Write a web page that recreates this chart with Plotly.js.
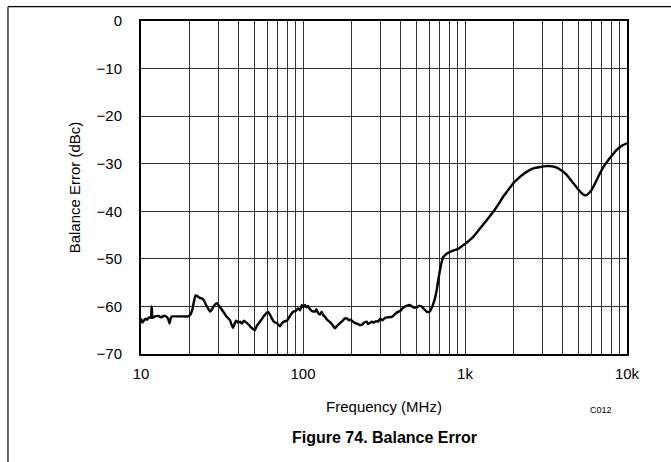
<!DOCTYPE html>
<html>
<head>
<meta charset="utf-8">
<script src="https://cdn.plot.ly/plotly-3.0.1.min.js"></script>
<style>html,body{margin:0;padding:0;background:#fff;}#chart{width:671px;height:462px;}</style>
</head>
<body>
<div id="chart"></div>
<script>
// Frequency (MHz)
const freqMHz = [
  10, 10.2, 10.4, 10.7, 10.9, 11.2, 11.5, 11.64, 11.78, 12.2, 12.8, 13.3, 13.8, 14.3, 14.7, 15.0, 15.3, 15.6, 16.5, 17.4, 18.5, 19.5,
  20.1, 20.8, 21.2, 21.7, 22.2, 23.1, 24.0, 24.5, 25.5, 26.7, 27.3, 28.3, 29.4, 30.5, 31.6, 33.5, 35.4, 36.2, 37.0, 38.0, 38.6,
  39.7, 40.8, 42, 43.2, 45.1, 46.5, 47.8, 50.5, 52, 54.3, 57.4, 60.8, 62.5, 64.4, 66.5, 69.1, 72.1, 74, 76.3, 79.6, 83.2, 86.7,
  90, 93.1, 96, 98.2, 100.5, 102.8, 105, 107.4, 110, 113.7, 118.6, 121, 123.8, 127, 130.4, 133, 136.8, 141, 146.8, 152, 157.6,
  163, 169.2, 176, 180, 186.1, 192, 197, 203.5, 210, 218.6, 224, 230.3, 238, 247.3, 252, 259.2, 266, 274.3, 282, 290.6, 300,
  310, 320.9, 335, 352.9, 370, 387.4, 400, 414.2, 435, 457.4, 480, 503.3, 520, 540.6, 560, 580.6, 595, 608.3, 621, 634.5,
  652.7, 668.5, 684.3, 701.4, 718.3, 735, 753, 790, 828.5, 870, 909.6, 977.2, 1040, 1099, 1180, 1267, 1380, 1496, 1610, 1723,
  1850, 1986, 2130, 2290, 2460, 2640, 2900, 3193, 3450, 3681, 3900, 4143, 4400, 4665, 4950, 5251, 5450, 5637, 5850, 6055,
  6400, 6813, 7200, 7673, 8100, 8635, 9300, 10000
];
// Balance error (dBc)
const balanceErr = [
  -62.5, -63.4, -63.0, -62.6, -62.8, -62.3, -62.4, -60.0, -62.4, -62.1, -62.0, -62.3, -62.0, -62.1, -62.6, -63.6, -62.4, -62.1, -62.1, -62.1, -62.1, -62.1,
  -61.8, -60.5, -59.0, -57.7, -57.8, -58.2, -58.4, -58.8, -60.0, -61.1, -60.7, -59.8, -59.3, -60.0, -60.7, -62.0, -62.9, -63.8, -64.5, -63.5, -63.0,
  -63.4, -63.2, -63.6, -63.0, -63.5, -63.9, -64.4, -65.0, -64.0, -63.2, -62.0, -61.1, -61.7, -62.6, -63.3, -63.5, -64.2, -63.6, -63.2, -63.0, -62.0, -61.1,
  -61.0, -60.4, -60.8, -59.7, -60.2, -59.7, -60.2, -59.9, -60.5, -61.0, -61.1, -60.6, -61.4, -61.7, -61.1, -61.8, -62.2, -62.8, -63.3, -63.9, -64.6,
  -64.0, -63.5, -63.0, -62.6, -62.5, -62.9, -62.8, -63.2, -63.5, -63.7, -63.9, -63.9, -63.4, -63.2, -63.7, -63.5, -63.2, -63.4, -63.1, -63.2, -62.6,
  -62.9, -62.4, -62.3, -62.2, -61.6, -61.1, -60.9, -60.3, -59.9, -59.7, -60.2, -60.2, -59.9, -60.0, -60.6, -61.1, -61.2, -61.0, -60.4, -59.6,
  -58.3, -56.6, -54.4, -52.3, -50.6, -49.6, -49.2, -48.7, -48.4, -48.1, -47.9, -47.1, -46.4, -45.7, -44.5, -43.2, -41.6, -40.1, -38.5, -36.9,
  -35.5, -34.1, -33.1, -32.2, -31.5, -31.0, -30.7, -30.5, -30.55, -30.8, -31.3, -32.0, -33.0, -34.1, -35.2, -36.2, -36.6, -36.6, -36.1, -35.5,
  -33.9, -32.0, -30.5, -29.2, -28.2, -27.1, -26.2, -25.7
];
// Axis ticks
const xTickVals = [10,20,30,40,50,60,70,80,90,100,200,300,400,500,600,700,800,900,1000,2000,3000,4000,5000,6000,7000,8000,9000,10000];
const xTickText = ['10','','','','','','','','','100','','','','','','','','','1k','','','','','','','','','10k'];
const yTickVals = [0,-10,-20,-30,-40,-50,-60,-70];
const yTickText = ['0','\u221210','\u221220','\u221230','\u221240','\u221250','\u221260','\u221270'];

const font = 'Arial, "Liberation Sans", sans-serif';
const trace = {
  x: freqMHz, y: balanceErr, type: 'scatter', mode: 'lines',
  line: {color: '#000', width: 2.4, shape: 'spline', smoothing: 0.3},
  hoverinfo: 'skip'
};
const layout = {
  width: 671, height: 462,
  margin: {l: 141, r: 44, t: 21, b: 108},
  paper_bgcolor: '#fff', plot_bgcolor: '#fff',
  showlegend: false,
  font: {family: font, color: '#000', size: 15},
  xaxis: {
    type: 'log', range: [1, 4],
    tickmode: 'array', tickvals: xTickVals, ticktext: xTickText,
    showgrid: true, gridcolor: '#333', gridwidth: 1,
    showline: true, linecolor: '#000', linewidth: 2, mirror: true,
    ticks: '', ticklabelstandoff: 5,
    tickfont: {size: 15, family: font},
    zeroline: false,
    title: {text: 'Frequency (MHz)', font: {size: 15, family: font}, standoff: 20}
  },
  yaxis: {
    range: [-70, 0],
    tickmode: 'array', tickvals: yTickVals, ticktext: yTickText,
    showgrid: true, gridcolor: '#333', gridwidth: 1,
    showline: true, linecolor: '#000', linewidth: 2, mirror: true,
    ticks: '', ticklabelstandoff: 14,
    tickfont: {size: 15, family: font},
    zeroline: false,
    title: {text: 'Balance Error (dBc)', font: {size: 15, family: font}, standoff: 12}
  },
  shapes: [
    {type: 'line', xref: 'paper', yref: 'paper', x0: -0.2737, x1: -0.2737, y0: 1.043, y1: -0.4, line: {color: '#000', width: 1.2}},
    {type: 'line', xref: 'paper', yref: 'paper', x0: -0.2737, x1: 1.2, y0: 1.043, y1: 1.043, line: {color: '#000', width: 1.2}}
  ],
  annotations: [
    {text: 'C012', xref: 'paper', yref: 'paper', x: 0.946, y: -0.168, xanchor: 'center', yanchor: 'middle', showarrow: false, font: {size: 9, family: font}},
    {text: '<b>Figure 74. Balance Error</b>', xref: 'paper', yref: 'paper', x: 0.5, y: -0.25, xanchor: 'center', yanchor: 'middle', showarrow: false, font: {size: 16, family: font}}
  ]
};
Plotly.newPlot('chart', [trace], layout, {displayModeBar: false, staticPlot: true});
</script>
</body>
</html>
